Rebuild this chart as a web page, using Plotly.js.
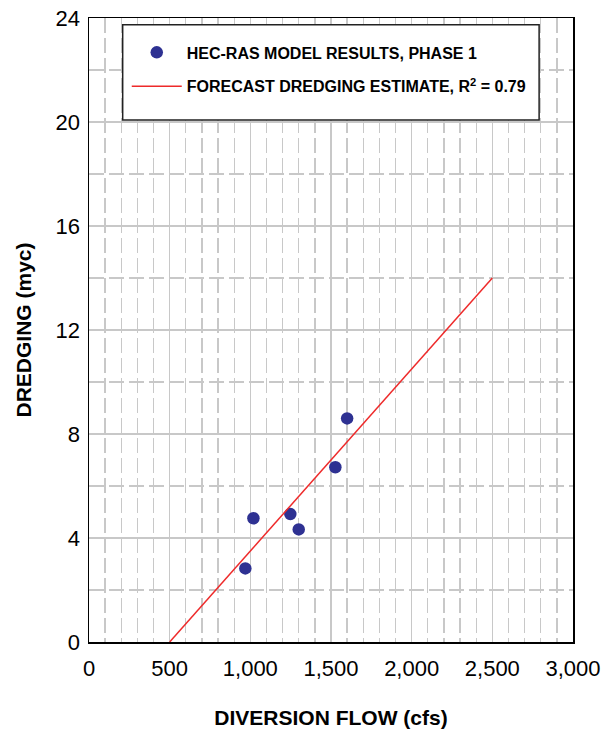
<!DOCTYPE html>
<html>
<head>
<meta charset="utf-8">
<script src="https://cdn.plot.ly/plotly-3.0.1.min.js"></script>
<style>html,body{margin:0;padding:0;background:#fff;}#chart{width:607px;height:733px;}</style>
</head>
<body>
<div id="chart"></div>
<script>
// HEC-RAS model results, phase 1
var flowCfs = [969, 1019, 1248, 1300, 1527, 1600];
var dredgingMyc = [2.83, 4.76, 4.92, 4.33, 6.72, 8.6];
// Forecast dredging estimate (linear fit endpoints)
var fitFlow = [500, 2500];
var fitDredging = [0, 14];

var seriesNames = ["HEC-RAS MODEL RESULTS, PHASE 1", "FORECAST DREDGING ESTIMATE, R<sup>2</sup> = 0.79"];
var xTickVals = [0, 500, 1000, 1500, 2000, 2500, 3000];
var xTickText = ["0", "500", "1,000", "1,500", "2,000", "2,500", "3,000"];
var yTickVals = [0, 4, 8, 12, 16, 20, 24];

var traces = [
  {x: flowCfs, y: dredgingMyc, mode: "markers", type: "scatter", name: seriesNames[0],
   legendgroup: "a", marker: {color: "#2e3192", size: 12.5}},
  {x: fitFlow, y: fitDredging, mode: "lines", type: "scatter", name: seriesNames[1],
   legendgroup: "b", line: {color: "#ee2a2a", width: 1.5}}
];

var gridCol = "#c8c8c8";
var layout = {
  width: 607, height: 733,
  margin: {l: 89, r: 34, t: 18, b: 91},
  paper_bgcolor: "#fff", plot_bgcolor: "#fff",
  font: {family: "Liberation Sans, Arial, sans-serif", color: "#000"},
  showlegend: true,
  xaxis: {
    range: [0, 3000], tickvals: xTickVals, ticktext: xTickText,
    showgrid: true, gridcolor: gridCol, gridwidth: 1.3,
    minor: {dtick: 100, showgrid: true, gridcolor: gridCol, gridwidth: 1.3, griddash: "15px,5px"},
    showline: true, linecolor: "#000", linewidth: 1.5, mirror: true,
    zeroline: false, ticks: "", tickfont: {size: 22}, ticklabelstandoff: 6,
    title: {text: "<b>DIVERSION FLOW (cfs)</b>", font: {size: 21}, standoff: 30}
  },
  yaxis: {
    range: [0, 24], tickvals: yTickVals,
    showgrid: true, gridcolor: gridCol, gridwidth: 1.3,
    minor: {dtick: 2, showgrid: true, gridcolor: gridCol, gridwidth: 1.3, griddash: "15px,5px"},
    showline: true, linecolor: "#000", linewidth: 1.5, mirror: true,
    zeroline: false, ticks: "", tickfont: {size: 22}, ticklabelstandoff: 3,
    title: {text: "<b>DREDGING (myc)</b>", font: {size: 21}, standoff: 18}
  },
  legend: {
    x: 0.078, y: 0.972, xanchor: "left", yanchor: "top",
    bgcolor: "rgba(0,0,0,0)", borderwidth: 0,
    font: {size: 16, family: "Liberation Sans, Arial, sans-serif", weight: "bold"},
    traceorder: "grouped", tracegroupgap: 10, itemwidth: 50
  },
  shapes: [{
    type: "rect", xref: "paper", yref: "paper",
    x0: 0.0696, x1: 0.930, y0: 0.8365, y1: 0.989,
    line: {color: "#222", width: 1.5}, fillcolor: "#fff", layer: "above"
  }]
};

Plotly.newPlot("chart", traces, layout, {displayModeBar: false, staticPlot: true});
</script>
</body>
</html>
